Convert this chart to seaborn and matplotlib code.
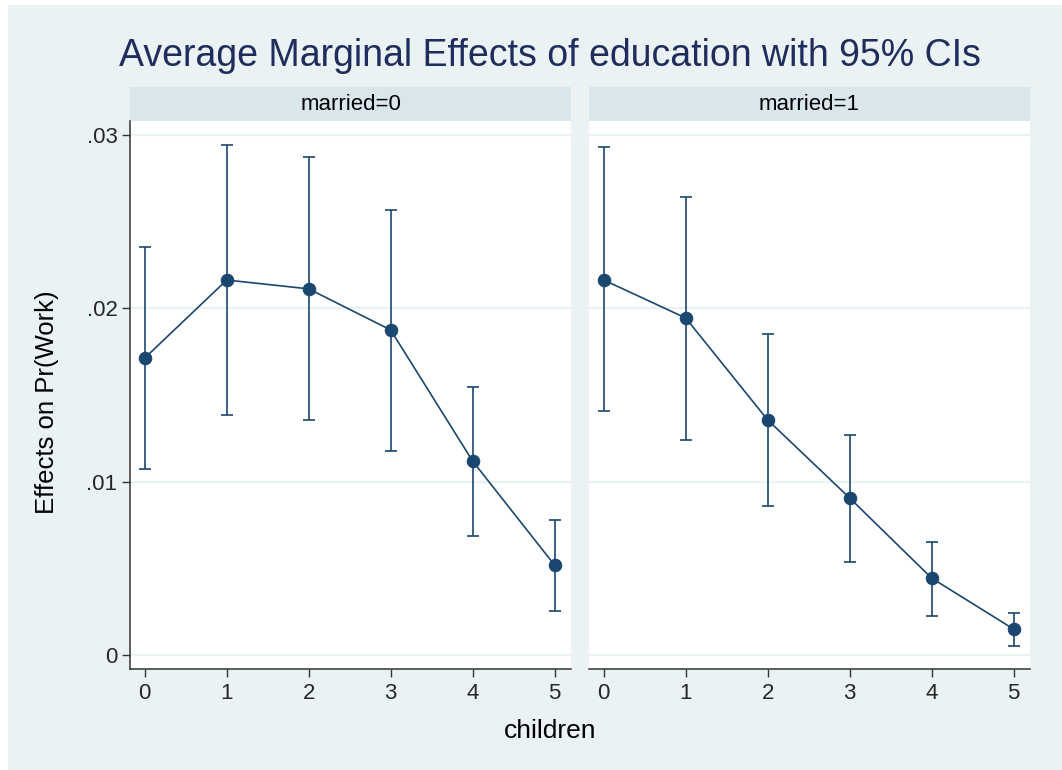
import numpy as np
import pandas as pd
import matplotlib
matplotlib.use('Agg')
import matplotlib.pyplot as plt
from matplotlib.patches import Rectangle
import seaborn as sns

# ---------------------------------------------------------
# Data: AME of education on Pr(Work) by children, married
# ---------------------------------------------------------
CHILDREN = [0, 1, 2, 3, 4, 5]
PANELS = ['married=0', 'married=1']

AME_M0 = [0.01713, 0.02163, 0.02112, 0.01875, 0.01119, 0.00519]
LO_M0 = [0.01073, 0.01385, 0.01356, 0.01177, 0.00687, 0.00254]
HI_M0 = [0.02354, 0.02942, 0.02873, 0.02567, 0.01546, 0.00779]

AME_M1 = [0.02163, 0.01944, 0.01356, 0.00906, 0.00444, 0.00150]
LO_M1 = [0.01408, 0.01240, 0.00860, 0.00537, 0.00225, 0.00052]
HI_M1 = [0.02931, 0.02642, 0.01852, 0.01269, 0.00652, 0.00242]

Y_TICKS = [0, 0.01, 0.02, 0.03]
Y_TICK_LABELS = ['0', '.01', '.02', '.03']

BG = '#EAF2F3'
STRIP = '#D9E6EB'
NAVY = '#1A476F'
TITLE_COLOR = '#1E2D5C'

df = pd.concat([
    pd.DataFrame({'panel': PANELS[0], 'children': CHILDREN, 'ame': AME_M0, 'lo': LO_M0, 'hi': HI_M0}),
    pd.DataFrame({'panel': PANELS[1], 'children': CHILDREN, 'ame': AME_M1, 'lo': LO_M1, 'hi': HI_M1}),
])

sns.set_style('white')
plt.rcParams['font.family'] = ['Liberation Sans', 'DejaVu Sans']

W, H = 1062, 770
fig = plt.figure(figsize=(W / 100, H / 100), dpi=100)
fig.patch.set_facecolor('white')
fig.patches.append(Rectangle((8 / W, 0), 1, 765 / H, transform=fig.transFigure,
                             facecolor=BG, edgecolor='none', zorder=-10))

ax_w = 441 / W
ax_h = 548 / H
ax_b = 1 - 669 / H
lefts = [130 / W, 589 / W]

for i, (panel, left) in enumerate(zip(PANELS, lefts)):
    ax = fig.add_axes([left, ax_b, ax_w, ax_h])
    ax.set_facecolor('white')
    sub = df[df['panel'] == panel]

    ax.set_yticks(Y_TICKS)
    ax.yaxis.grid(True, color=BG, linewidth=1.6)
    ax.set_axisbelow(True)

    ax.errorbar(sub['children'], sub['ame'],
                yerr=[sub['ame'] - sub['lo'], sub['hi'] - sub['ame']],
                fmt='none', ecolor=NAVY, elinewidth=1.2, capsize=4.5, capthick=1.2, zorder=2)
    sns.lineplot(data=sub, x='children', y='ame', ax=ax, color=NAVY, linewidth=1.2,
                 marker='o', markersize=9, markeredgecolor=NAVY, zorder=3)

    ax.set_xlim(-0.18, 5.2)
    ax.set_ylim(-0.0008, 0.0308)
    ax.set_xticks(CHILDREN)
    ax.set_xticklabels([str(c) for c in CHILDREN], fontsize=16)
    ax.tick_params(axis='x', length=6, width=1, color='#333333', pad=4, bottom=True)
    ax.set_xlabel('')
    ax.set_ylabel('')

    for s in ['top', 'right']:
        ax.spines[s].set_visible(False)
    ax.spines['bottom'].set_color('#333333')
    ax.spines['bottom'].set_linewidth(1.1)
    if i == 0:
        ax.set_yticklabels(Y_TICK_LABELS, fontsize=16)
        ax.tick_params(axis='y', length=6, width=1, color='#333333', pad=3, left=True)
        ax.spines['left'].set_color('#333333')
        ax.spines['left'].set_linewidth(1.1)
    else:
        ax.spines['left'].set_visible(False)
        ax.tick_params(axis='y', left=False, labelleft=False)

    # facet strip
    sh = 34 / 548
    ax.add_patch(Rectangle((0, 1), 1, sh, transform=ax.transAxes, clip_on=False,
                           facecolor=STRIP, edgecolor='none'))
    ax.text(0.5, 1 + sh / 2, panel, transform=ax.transAxes, ha='center', va='center',
            fontsize=16, color='black')

fig.text(550 / W, 1 - 56 / H, 'Average Marginal Effects of education with 95% CIs',
         ha='center', va='center', fontsize=27, color=TITLE_COLOR)
fig.text(47 / W, 1 - 402 / H, 'Effects on Pr(Work)', rotation=90, ha='center',
         va='center', fontsize=18.5, color='black')
fig.text(550 / W, 1 - 731 / H, 'children', ha='center', va='center', fontsize=19,
         color='black')

fig.savefig('out.png', dpi=100, facecolor=fig.get_facecolor())
